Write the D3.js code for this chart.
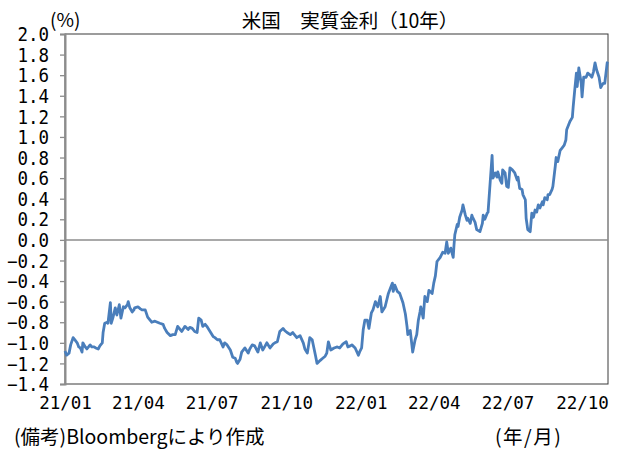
<!DOCTYPE html>
<html><head><meta charset="utf-8">
<script src="https://cdn.jsdelivr.net/npm/d3@7"></script>
<style>
html,body{margin:0;padding:0;background:#fff;}
svg{display:block;}
.jp{font-family:"Noto Sans CJK JP",sans-serif;fill:#000;}
</style></head>
<body>
<svg id="chart" width="627" height="450"></svg>
<script>
// Days since 2021-01-01 and US 10Y real yield (%)
const dayOffsets = [0,2,5,7,10,12,15,17,19,21,22,25,27,30,31,33,36,38,41,43,46,47,49,52,53,56,57,59,62,64,67,69,72,74,77,78,80,83,85,86,90,93,95,99,102,105,107,111,114,117,121,123,126,130,133,136,139,142,144,148,152,154,157,160,163,165,168,170,173,175,179,183,185,188,191,195,197,200,204,207,210,212,213,216,218,222,226,228,231,234,238,241,244,247,249,253,257,259,262,265,269,271,274,278,281,284,286,290,294,296,299,302,305,309,311,315,318,321,323,325,328,332,336,339,343,347,349,352,354,358,362,364,366,368,370,373,375,378,380,383,386,389,391,395,399,401,404,405,407,410,413,417,420,422,423,426,428,429,432,434,436,438,439,442,444,447,449,453,455,457,459,463,466,469,471,473,476,479,480,481,484,485,487,490,491,494,496,497,500,502,503,506,508,512,515,516,518,521,522,524,527,528,531,533,534,537,539,540,543,545,547,549,552,555,558,559,561,564,565,568,569,571,574,576,578,580,582,584,586,589,590,592,595,596,598,601,602,605,606,608,611,613,616,618,619,623,626,627,629,631,632,634,637,638,640,643,645,648,650,652,654,656,659,661,664,666,669,670];
const realYield = [-1.08,-1.12,-1.10,-1.02,-0.95,-0.97,-1.00,-1.04,-1.05,-1.09,-1.00,-1.04,-1.06,-1.03,-1.02,-1.04,-1.04,-1.05,-1.06,-1.03,-1.00,-0.90,-0.81,-0.80,-0.81,-0.61,-0.81,-0.76,-0.66,-0.73,-0.63,-0.76,-0.65,-0.66,-0.63,-0.60,-0.66,-0.70,-0.68,-0.66,-0.65,-0.67,-0.68,-0.68,-0.75,-0.78,-0.80,-0.79,-0.80,-0.81,-0.82,-0.86,-0.90,-0.93,-0.92,-0.92,-0.84,-0.87,-0.89,-0.84,-0.87,-0.85,-0.86,-0.89,-0.90,-0.76,-0.78,-0.84,-0.82,-0.84,-0.89,-0.94,-0.95,-0.97,-0.97,-1.04,-1.00,-1.02,-1.07,-1.14,-1.15,-1.19,-1.20,-1.16,-1.09,-1.05,-1.10,-1.06,-1.02,-1.03,-1.09,-1.00,-1.07,-1.03,-1.00,-1.05,-1.01,-1.00,-0.99,-0.89,-0.86,-0.88,-0.90,-0.92,-0.90,-0.93,-0.95,-0.93,-1.00,-1.06,-1.10,-0.95,-0.97,-1.12,-1.20,-1.17,-1.15,-1.13,-1.10,-0.99,-1.07,-1.05,-1.04,-1.05,-1.01,-0.99,-1.04,-1.03,-1.02,-1.05,-1.12,-1.08,-1.05,-0.87,-0.78,-0.78,-0.86,-0.71,-0.68,-0.60,-0.65,-0.55,-0.70,-0.65,-0.52,-0.48,-0.42,-0.50,-0.44,-0.50,-0.52,-0.61,-0.72,-0.84,-0.92,-0.88,-1.02,-1.09,-0.97,-0.92,-0.78,-0.70,-0.65,-0.76,-0.55,-0.60,-0.49,-0.52,-0.42,-0.35,-0.21,-0.17,-0.12,-0.13,-0.02,-0.13,-0.08,-0.17,-0.05,0.05,0.15,0.13,0.22,0.29,0.34,0.24,0.19,0.21,0.16,0.24,0.22,0.17,0.10,0.08,0.16,0.24,0.20,0.26,0.27,0.49,0.82,0.60,0.65,0.61,0.66,0.58,0.55,0.68,0.65,0.52,0.51,0.70,0.68,0.65,0.58,0.61,0.50,0.49,0.44,0.39,0.21,0.10,0.08,0.26,0.22,0.29,0.27,0.34,0.31,0.37,0.34,0.41,0.39,0.44,0.44,0.49,0.52,0.72,0.80,0.76,0.87,0.89,0.92,0.97,1.07,1.15,1.19,1.29,1.46,1.62,1.49,1.67,1.52,1.39,1.58,1.58,1.62,1.60,1.58,1.63,1.72,1.65,1.58,1.48,1.52,1.52,1.72,1.73];
const xTickDates = ["2021-01-01","2021-04-01","2021-07-01","2021-10-01","2022-01-01","2022-04-01","2022-07-01","2022-10-01"];
const xTickLabels = ["21/01","21/04","21/07","21/10","22/01","22/04","22/07","22/10"];
const yTickValues = [-1.4,-1.2,-1.0,-0.8,-0.6,-0.4,-0.2,0.0,0.2,0.4,0.6,0.8,1.0,1.2,1.4,1.6,1.8,2.0];
const titleText = "米国　実質金利（10年）";
const unitText = "(%)";
const noteText = "(備考)Bloombergにより作成";
const xUnitText = "(年/月)";

const svg = d3.select("#chart");
const L = 65, R = 608, T = 34, B = 384;
const base = new Date(2021,0,1);
const toDate = d => d3.timeDay.offset(base, d);
const parse = d3.timeParse("%Y-%m-%d");

const x = d3.scaleTime().domain([base, toDate(670)]).range([L, R]);
const y = d3.scaleLinear().domain([-1.4, 2.0]).range([B, T]);

// plot frame
svg.append("rect").attr("x", L).attr("y", T).attr("width", R - L).attr("height", B - T)
  .attr("fill", "none").attr("stroke", "#3a3a3a").attr("stroke-width", 1);

// zero line
svg.append("line").attr("x1", L).attr("x2", R).attr("y1", y(0)).attr("y2", y(0))
  .attr("stroke", "#8c8c8c").attr("stroke-width", 1.5);

// y axis
const yAxis = d3.axisLeft(y).tickValues(yTickValues).tickSize(5).tickPadding(4)
  .tickFormat(d => d3.format(".1f")(d).replace("-", "−"));
const gy = svg.append("g").attr("transform", `translate(${L},0)`).call(yAxis);
gy.select(".domain").attr("stroke", "#8c8c8c").attr("stroke-width", 2);
gy.selectAll(".tick line").attr("stroke", "#8c8c8c").attr("stroke-width", 1.3);
gy.selectAll(".tick text").attr("x", -16).attr("dy", "0.36em").attr("fill", "#000")
  .style("font-family", "'DejaVu Sans Mono',monospace").style("font-size", "17.5px")
  .attr("transform", "scale(1,1.06)");

// x axis labels
const xAxis = d3.axisBottom(x).tickValues(xTickDates.map(parse)).tickSize(0).tickPadding(13)
  .tickFormat((d, i) => xTickLabels[i]);
const gx = svg.append("g").attr("transform", `translate(0,${B})`).call(xAxis);
gx.select(".domain").remove();
gx.selectAll(".tick text").attr("fill", "#000")
  .style("font-family", "'DejaVu Sans Mono',monospace").style("font-size", "17.5px");

// line
const data = dayOffsets.map((d, i) => ({date: toDate(d), v: realYield[i]}));
const line = d3.line().x(d => x(d.date)).y(d => y(d.v));
svg.append("path").datum(data).attr("d", line).attr("fill", "none")
  .attr("stroke", "#4a7ebb").attr("stroke-width", 2.8).attr("stroke-linejoin", "round");

// texts
svg.append("text").attr("class", "jp").attr("x", 350).attr("y", 28).attr("text-anchor", "middle")
  .style("font-size", "19.5px").text(titleText);
svg.append("text").attr("class", "jp").attr("x", 50).attr("y", 27)
  .style("font-size", "19px").text(unitText);
svg.append("text").attr("class", "jp").attr("x", 14).attr("y", 444)
  .style("font-size", "19.5px").text(noteText);
svg.append("text").attr("class", "jp").attr("x", 495).attr("y", 444)
  .style("font-size", "19.5px").attr("letter-spacing", "1.5px").text(xUnitText);
</script>
</body></html>
